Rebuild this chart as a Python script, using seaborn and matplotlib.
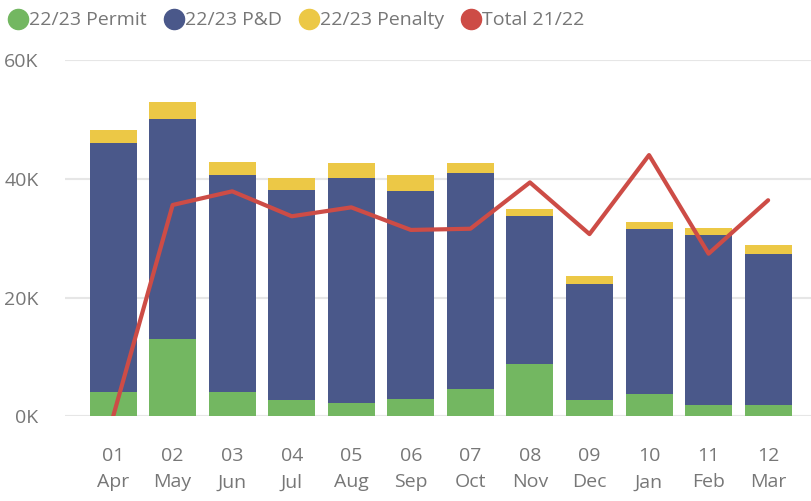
import numpy as np
import pandas as pd
import seaborn as sns
import matplotlib.pyplot as plt
from matplotlib.lines import Line2D

# ==== Data ====
months = ["01\nApr", "02\nMay", "03\nJun", "04\nJul", "05\nAug", "06\nSep",
          "07\nOct", "08\nNov", "09\nDec", "10\nJan", "11\nFeb", "12\nMar"]
permit = [4050, 13000, 4200, 2700, 2350, 2900, 4600, 8800, 2700, 3700, 1850, 2000]
pd_top = [46000, 50100, 40600, 38200, 40200, 38000, 40900, 33800, 22300, 31600, 30600, 27400]
total_top = [48200, 52900, 42900, 40200, 42600, 40600, 42700, 35000, 23700, 32800, 31800, 28800]
total_2122 = [0, 35600, 37900, 33700, 35200, 31400, 31600, 39400, 30700, 44000, 27400, 36400]

GREEN = "#73B761"
BLUE = "#4A588A"
YELLOW = "#ECC846"
RED = "#CD4C46"
TXT = "#777777"

df = pd.DataFrame({"month": months, "permit": permit,
                   "pd_top": pd_top, "total_top": total_top,
                   "total_2122": total_2122})

sns.set_theme(style="white")
plt.rcParams["font.family"] = ["Open Sans", "DejaVu Sans"]

fig = plt.figure(figsize=(8.11, 5.01), dpi=100)
ax = fig.add_axes([0.080, 0.1687, 0.920, 0.7115])

ax.yaxis.grid(True, color="#E6E6E6", linewidth=1.5)
ax.set_axisbelow(True)

# stacked bars drawn back to front (cumulative heights)
for col, c in [("total_top", YELLOW), ("pd_top", BLUE), ("permit", GREEN)]:
    sns.barplot(data=df, x="month", y=col, color=c, width=0.79,
                saturation=1, linewidth=0, ax=ax)
sns.lineplot(x=np.arange(len(months)), y=total_2122, color=RED,
             linewidth=3, ax=ax, zorder=5)

ax.set_ylim(0, 60000)
ax.set_xlim(-0.81, 11.72)
ax.set_yticks([0, 20000, 40000, 60000])
ax.set_yticklabels(["0K", "20K", "40K", "60K"])
ax.set_xlabel("")
ax.set_ylabel("")
sns.despine(ax=ax, left=True, bottom=True)
ax.tick_params(axis="both", length=0, labelsize=14, labelcolor=TXT)
ax.tick_params(axis="y", pad=19)
ax.tick_params(axis="x", pad=22)
for lab in ax.get_xticklabels():
    lab.set_linespacing(1.6)

handles = [Line2D([], [], marker="o", linestyle="", markersize=14.5, color=c)
           for c in [GREEN, BLUE, YELLOW, RED]]
labels = ["22/23 Permit", "22/23 P&D", "22/23 Penalty", "Total 21/22"]
fig.legend(handles, labels, loc="upper left", bbox_to_anchor=(-0.012, 1.012),
           ncol=4, frameon=False, fontsize=14, labelcolor=TXT,
           handletextpad=0.0, columnspacing=0.85, handlelength=1.1)

fig.savefig("out.png", dpi=100)
